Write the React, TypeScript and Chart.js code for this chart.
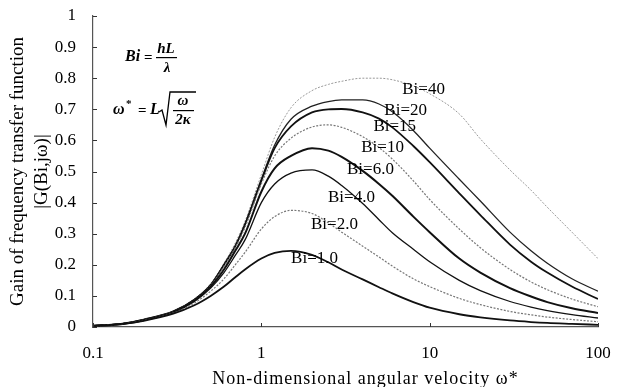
import React, { useEffect, useRef } from "react";
import { Chart, registerables } from "chart.js";
Chart.register(...registerables);

const omega = [0.1, 0.15, 0.2, 0.3, 0.4, 0.5, 0.6, 0.7, 0.8, 1, 1.2, 1.5, 2, 2.5, 3, 4, 5, 6, 8, 10, 15, 20, 30, 40, 50, 70, 100];

const bi1 = [0.003, 0.01, 0.02, 0.043, 0.07, 0.1, 0.13, 0.16, 0.185, 0.22, 0.238, 0.245, 0.232, 0.208, 0.185, 0.153, 0.128, 0.108, 0.08, 0.062, 0.041, 0.031, 0.021, 0.016, 0.013, 0.01, 0.007];
const bi2 = [0.003, 0.01, 0.021, 0.045, 0.077, 0.115, 0.155, 0.2, 0.24, 0.315, 0.355, 0.375, 0.365, 0.335, 0.305, 0.26, 0.225, 0.196, 0.155, 0.13, 0.092, 0.072, 0.05, 0.039, 0.032, 0.024, 0.017];
const bi4 = [0.003, 0.01, 0.022, 0.047, 0.082, 0.125, 0.175, 0.23, 0.28, 0.4, 0.46, 0.495, 0.505, 0.485, 0.455, 0.397, 0.345, 0.303, 0.25, 0.21, 0.15, 0.117, 0.082, 0.064, 0.053, 0.04, 0.029];
const bi6 = [0.003, 0.01, 0.022, 0.048, 0.085, 0.13, 0.185, 0.245, 0.3, 0.435, 0.51, 0.55, 0.575, 0.567, 0.547, 0.502, 0.46, 0.422, 0.355, 0.305, 0.22, 0.175, 0.125, 0.098, 0.08, 0.06, 0.045];
const bi10 = [0.003, 0.01, 0.023, 0.049, 0.087, 0.133, 0.195, 0.255, 0.32, 0.46, 0.55, 0.607, 0.643, 0.65, 0.642, 0.612, 0.577, 0.54, 0.47, 0.41, 0.315, 0.255, 0.185, 0.145, 0.12, 0.09, 0.065];
const bi15 = [0.004, 0.011, 0.024, 0.05, 0.088, 0.135, 0.2, 0.26, 0.33, 0.47, 0.575, 0.645, 0.69, 0.7, 0.701, 0.69, 0.67, 0.642, 0.582, 0.53, 0.43, 0.36, 0.265, 0.21, 0.175, 0.13, 0.09];
const bi20 = [0.004, 0.011, 0.024, 0.05, 0.088, 0.135, 0.2, 0.26, 0.33, 0.475, 0.585, 0.668, 0.71, 0.725, 0.73, 0.73, 0.717, 0.692, 0.632, 0.575, 0.475, 0.405, 0.305, 0.245, 0.205, 0.155, 0.115];
const bi40 = [0.004, 0.011, 0.024, 0.05, 0.09, 0.14, 0.205, 0.27, 0.34, 0.49, 0.61, 0.705, 0.76, 0.78, 0.79, 0.8, 0.8, 0.795, 0.775, 0.75, 0.685, 0.605, 0.505, 0.44, 0.385, 0.305, 0.22];

const seriesNames = ["Bi=1.0", "Bi=2.0", "Bi=4.0", "Bi=6.0", "Bi=10", "Bi=15", "Bi=20", "Bi=40"];
const seriesValues = [bi1, bi2, bi4, bi6, bi10, bi15, bi20, bi40];
const seriesColors = ["#111", "#777", "#111", "#111", "#777", "#111", "#222", "#999"];
const seriesWidths = [1.8, 1.2, 1.3, 2.0, 1.2, 1.8, 1.3, 1.0];
const seriesDashed = [false, true, false, false, true, false, false, true];

// label anchors (omega, gain) for the curve labels
const labelOmega = [2.07, 2.72, 3.43, 4.45, 5.25, 6.2, 7.2, 9.2];
const labelGain = [0.219, 0.328, 0.415, 0.505, 0.576, 0.643, 0.695, 0.765];

const xTicks = [0.1, 1, 10, 100];
const xTickLabels = ["0.1", "1", "10", "100"];
const yTicks = [0, 0.1, 0.2, 0.3, 0.4, 0.5, 0.6, 0.7, 0.8, 0.9, 1];
const xTitle = "Non-dimensional angular velocity ω*";

const SERIF = "'Liberation Serif', 'DejaVu Serif', serif";

const overlay = {
  id: "overlay",
  afterDraw(chart: any) {
    const ctx = chart.ctx;
    const xs = chart.scales.x;
    const ys = chart.scales.y;
    const area = chart.chartArea;
    ctx.save();
    // inward ticks
    ctx.strokeStyle = "#333";
    ctx.lineWidth = 1;
    ctx.beginPath();
    xTicks.forEach((v) => {
      const px = Math.round(xs.getPixelForValue(v)) + 0.5;
      ctx.moveTo(px, area.bottom);
      ctx.lineTo(px, area.bottom - 4);
    });
    yTicks.forEach((v) => {
      const py = Math.round(ys.getPixelForValue(v)) + 0.5;
      ctx.moveTo(area.left, py);
      ctx.lineTo(area.left + 4, py);
    });
    ctx.stroke();

    // x axis title
    ctx.fillStyle = "#000";
    ctx.font = `18px ${SERIF}`;
    ctx.textAlign = "center";
    ctx.textBaseline = "middle";
    try { (ctx as any).letterSpacing = "1px"; } catch (e) {}
    ctx.fillText(xTitle, (area.left + area.right) / 2 + 20, xs.bottom - 8);
    try { (ctx as any).letterSpacing = "0px"; } catch (e) {}

    // curve labels
    ctx.font = `17px ${SERIF}`;
    seriesNames.forEach((n, i) => {
      ctx.fillText(n, xs.getPixelForValue(labelOmega[i]), ys.getPixelForValue(labelGain[i]));
    });

    // formulas
    const L = area.left;
    const T = area.top;
    ctx.textAlign = "left";
    ctx.font = `italic bold 16px ${SERIF}`;
    ctx.fillText("Bi", L + 32, T + 41);
    ctx.font = `bold 15px ${SERIF}`;
    ctx.fillText("=", L + 51, T + 42);
    ctx.font = `italic bold 15px ${SERIF}`;
    ctx.textAlign = "center";
    ctx.fillText("hL", L + 73, T + 33);
    ctx.fillText("λ", L + 74, T + 52);
    ctx.fillRect(L + 63, T + 41, 21, 1.2);

    // omega* = L sqrt(omega / 2 kappa)
    ctx.textAlign = "left";
    ctx.font = `italic bold 16px ${SERIF}`;
    ctx.fillText("ω", L + 20, T + 94);
    ctx.font = `bold 11px ${SERIF}`;
    ctx.fillText("*", L + 33, T + 88);
    ctx.font = `bold 15px ${SERIF}`;
    ctx.fillText("=", L + 45, T + 95);
    ctx.font = `italic bold 16px ${SERIF}`;
    ctx.fillText("L", L + 57, T + 94);
    ctx.lineWidth = 1.3;
    ctx.strokeStyle = "#000";
    ctx.beginPath();
    ctx.moveTo(L + 66, T + 96);
    ctx.lineTo(L + 69, T + 94);
    ctx.lineTo(L + 73, T + 109);
    ctx.lineTo(L + 77, T + 76);
    ctx.lineTo(L + 103, T + 76);
    ctx.stroke();
    ctx.textAlign = "center";
    ctx.font = `italic bold 15px ${SERIF}`;
    ctx.fillText("ω", L + 90, T + 85);
    ctx.fillRect(L + 80, T + 94, 21, 1.2);
    ctx.fillText("2κ", L + 90, T + 104);
    ctx.restore();
  },
};

export default function App() {
  const ref = useRef<HTMLCanvasElement | null>(null);
  useEffect(() => {
    document.body.style.margin = "0";
    const datasets = seriesNames.map((name, i) => ({
      label: name,
      data: omega.map((x, j) => ({ x, y: seriesValues[i][j] })),
      borderColor: seriesColors[i],
      borderWidth: seriesWidths[i],
      borderDash: seriesDashed[i] ? [2, 1.5] : [],
      pointRadius: 0,
      fill: false,
      cubicInterpolationMode: "monotone" as const,
    }));
    const chart = new Chart(ref.current as HTMLCanvasElement, {
      type: "line",
      data: { datasets },
      plugins: [overlay],
      options: {
        animation: false,
        responsive: false,
        maintainAspectRatio: false,
        layout: { padding: { top: 16, right: 24, left: 0, bottom: 0 } },
        plugins: { legend: { display: false }, tooltip: { enabled: false } },
        scales: {
          x: {
            type: "logarithmic",
            min: 0.1,
            max: 100,
            afterBuildTicks: (s: any) => {
              s.ticks = xTicks.map((v) => ({ value: v }));
            },
            afterFit: (s: any) => {
              s.height = 60;
              s.paddingLeft = 0;
              s.paddingRight = 0;
            },
            ticks: {
              autoSkip: false,
              maxRotation: 0,
              padding: 16,
              color: "#000",
              font: { family: SERIF, size: 17 },
              callback: (v: any) => {
                const i = xTicks.indexOf(Number(v));
                return i >= 0 ? xTickLabels[i] : "";
              },
            },
            grid: { display: false, drawTicks: false },
            border: { display: true, color: "#555", width: 1.2 },
            title: { display: false },
          },
          y: {
            type: "linear",
            min: 0,
            max: 1,
            afterBuildTicks: (s: any) => {
              s.ticks = yTicks.map((v) => ({ value: v }));
            },
            afterFit: (s: any) => {
              s.width = 93;
              s.paddingTop = 0;
              s.paddingBottom = 0;
            },
            ticks: {
              padding: 17,
              color: "#000",
              font: { family: SERIF, size: 17 },
              callback: (v: any) => String(Math.round(Number(v) * 10) / 10),
            },
            grid: { display: false, drawTicks: false },
            border: { display: true, color: "#555", width: 1.2 },
            title: {
              display: true,
              text: ["Gain of frequency transfer function", "|G(Bi,jω)|"],
              color: "#000",
              font: { family: SERIF, size: 19, lineHeight: 1.26 },
              padding: { top: 6, bottom: 0 },
            },
          },
        },
      },
    } as any);
    return () => chart.destroy();
  }, []);
  return (
    <div style={{ position: "fixed", left: 0, top: 0, width: 622, height: 387, background: "#fff" }}>
      <canvas ref={ref} width={622} height={387} style={{ width: 622, height: 387 }} />
    </div>
  );
}
